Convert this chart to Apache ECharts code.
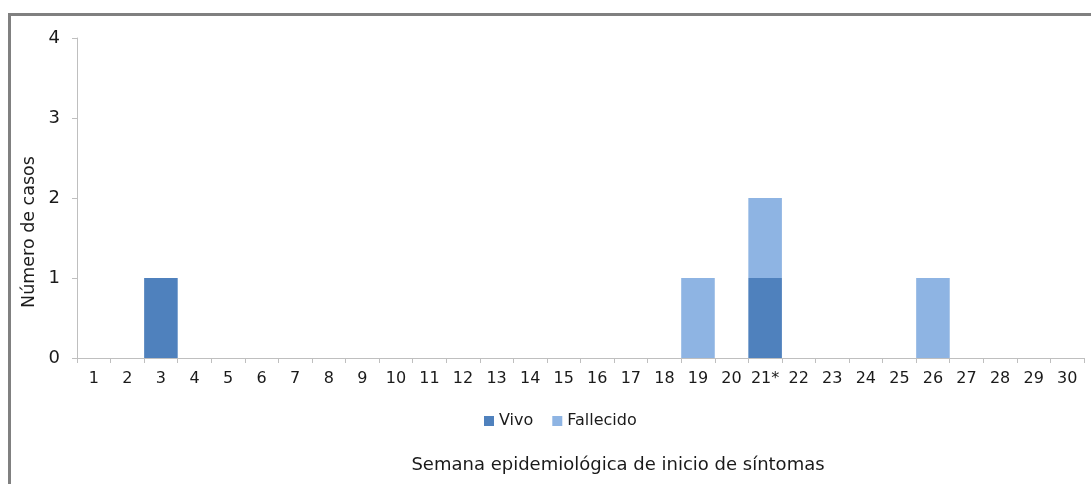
<!DOCTYPE html>
<html><head><meta charset="utf-8">
<script src="https://cdn.jsdelivr.net/npm/echarts@6/dist/echarts.min.js"></script>
<style>html,body{margin:0;padding:0;background:#fff}#c{width:1091px;height:484px}</style>
</head><body><div id="c"></div>
<script>
const categories = ['1','2','3','4','5','6','7','8','9','10','11','12','13','14','15','16','17','18','19','20','21*','22','23','24','25','26','27','28','29','30'];
const vivo =      [0,0,1,0,0,0,0,0,0,0,0,0,0,0,0,0,0,0,0,0,1,0,0,0,0,0,0,0,0,0];
const fallecido = [0,0,0,0,0,0,0,0,0,0,0,0,0,0,0,0,0,0,1,0,1,0,0,0,0,1,0,0,0,0];
const yTicks = [0,1,2,3,4];
const xTitle = 'Semana epidemiológica de inicio de síntomas';
const yTitle = 'Número de casos';

const chart = echarts.init(document.getElementById('c'));
const font = 'DejaVu Sans, Verdana, sans-serif';
chart.setOption({
  animation: false,
  textStyle: {fontFamily: font},
  graphic: [
    {type:'rect', shape:{x:9.5,y:14.5,width:1200,height:600}, style:{fill:'none',stroke:'#808080',lineWidth:3}, silent:true},
    {type:'text', x:618, y:465, style:{text:xTitle, font:'18px ' + font, fill:'#1a1a1a', textAlign:'center', textVerticalAlign:'middle'}},
    {type:'text', x:29, y:232, rotation:Math.PI/2, style:{text:yTitle, font:'17.5px ' + font, fill:'#1a1a1a', textAlign:'center', textVerticalAlign:'middle'}}
  ],
  grid: {left:77, right:7, top:38, bottom:126, containLabel:false},
  legend: {data:['Vivo','Fallecido'], top:408, left:479, itemWidth:10, itemHeight:10, itemGap:19, icon:'rect',
    textStyle:{fontFamily:font, fontSize:16, color:'#1a1a1a'}},
  xAxis: {type:'category', data:categories,
    axisLine:{lineStyle:{color:'#bfbfbf'}}, axisTick:{show:true, alignWithLabel:false, length:5, lineStyle:{color:'#bfbfbf'}},
    axisLabel:{color:'#1a1a1a', fontSize:16, margin:13, interval:0, fontFamily:font}},
  yAxis: {type:'value', min:yTicks[0], max:yTicks[yTicks.length-1], interval:1,
    splitLine:{show:false},
    axisLine:{show:true, lineStyle:{color:'#bfbfbf'}}, axisTick:{show:true, length:5, lineStyle:{color:'#bfbfbf'}},
    axisLabel:{color:'#1a1a1a', fontSize:18, margin:17, fontFamily:font}},
  series: [
    {name:'Vivo', type:'bar', stack:'a', data:vivo, barCategoryGap:'0%', itemStyle:{color:'#4f81bd'}},
    {name:'Fallecido', type:'bar', stack:'a', data:fallecido, barCategoryGap:'0%', itemStyle:{color:'#8eb4e3'}}
  ]
});
</script></body></html>
